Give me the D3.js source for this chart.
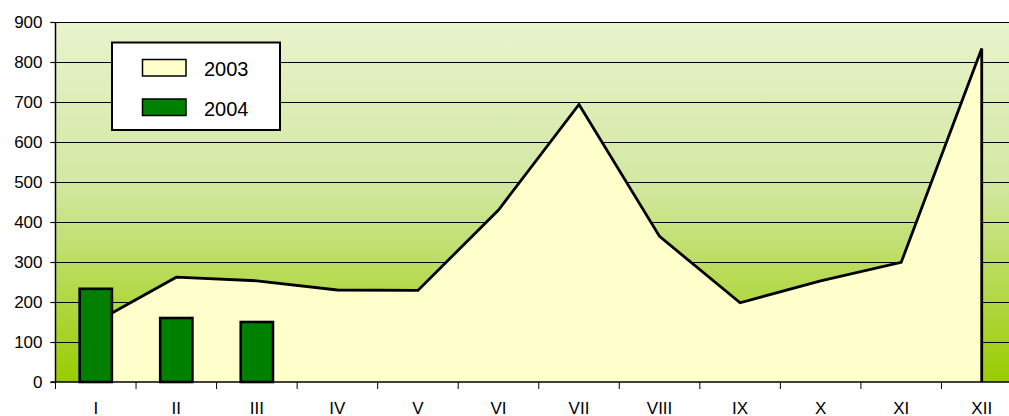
<!DOCTYPE html>
<html>
<head>
<meta charset="utf-8">
<style>
  body {margin: 0; background: white;}
  svg {display: block; font-family: "Liberation Sans", Arial, sans-serif;}
</style>
</head>
<body>
<svg id="chart" width="1009" height="416"></svg>
<script src="https://d3js.org/d3.v7.min.js"></script>
<script>
var months = ["I","II","III","IV","V","VI","VII","VIII","IX","X","XI","XII"];
var values2003 = [150, 262, 253, 230, 229, 430, 694, 364, 198, 253, 299, 834];
var values2004 = [233, 160, 150];
var yTicks = [0, 100, 200, 300, 400, 500, 600, 700, 800, 900];
var seriesNames = ["2003", "2004"];

var svg = d3.select("#chart");
var pLeft = 55.5, pRight = 1022, pTop = 22, pBottom = 382;

var x = d3.scaleBand().domain(months).range([pLeft, pRight]).padding(0);
var y = d3.scaleLinear().domain([0, 900]).range([pBottom, pTop]);

// background gradient
var grad = svg.append("defs").append("linearGradient")
  .attr("id", "bg").attr("x1", 0).attr("y1", 0).attr("x2", 0).attr("y2", 1);
grad.append("stop").attr("offset", "0%").attr("stop-color", "#e9f3cd");
grad.append("stop").attr("offset", "45%").attr("stop-color", "#d2e8a2");
grad.append("stop").attr("offset", "100%").attr("stop-color", "#99cc00");

svg.append("rect").attr("x", pLeft).attr("y", pTop)
  .attr("width", pRight - pLeft).attr("height", pBottom - pTop)
  .attr("fill", "url(#bg)");

// gridlines
svg.append("g").selectAll("line").data(yTicks.slice(1)).enter().append("line")
  .attr("x1", pLeft - 5).attr("x2", pRight)
  .attr("y1", function(d){ return Math.round(y(d)) + 0.5; })
  .attr("y2", function(d){ return Math.round(y(d)) + 0.5; })
  .attr("stroke", "#000").attr("stroke-width", 1.2);

// 2003 area
var cx = function(d, i){ return x(months[i]) + x.bandwidth() / 2; };
var area = d3.area().x(cx).y0(y(0)).y1(function(d){ return y(d); });
var line = d3.line().x(cx).y(function(d){ return y(d); });
svg.append("path").datum(values2003).attr("d", area).attr("fill", "#ffffcc");
var lastX = cx(null, values2003.length - 1);
svg.append("path")
  .attr("d", line(values2003) + "L" + lastX + "," + y(0))
  .attr("fill", "none").attr("stroke", "#000").attr("stroke-width", 2.8)
  .attr("stroke-linejoin", "miter");

// 2004 bars
var barW = x.bandwidth() * 0.4;
svg.append("g").selectAll("rect").data(values2004).enter().append("rect")
  .attr("x", function(d, i){ return cx(d, i) - barW / 2; })
  .attr("y", function(d){ return y(d); })
  .attr("width", barW)
  .attr("height", function(d){ return y(0) - y(d); })
  .attr("fill", "#008000").attr("stroke", "#000").attr("stroke-width", 2.6);

// y axis
var yAxis = d3.axisLeft(y).tickValues(yTicks).tickSize(5).tickPadding(8);
var gy = svg.append("g").attr("transform", "translate(" + pLeft + ",0)").call(yAxis);
gy.select(".domain").attr("stroke", "#000").attr("stroke-width", 1.5).attr("d", "M0," + pTop + "V" + pBottom);
gy.selectAll("line").attr("stroke", "#000").attr("stroke-width", 1.2);
gy.selectAll("text").attr("font-size", 17).attr("fill", "#000")
  .attr("font-family", "Liberation Sans, Arial, sans-serif");

// x axis
var gx = svg.append("g").attr("transform", "translate(0," + pBottom + ")");
gx.append("line").attr("x1", pLeft - 5).attr("x2", pRight).attr("y1", 0).attr("y2", 0)
  .attr("stroke", "#000").attr("stroke-width", 1.5);
gx.selectAll(".tk").data(months).enter().append("line")
  .attr("x1", function(d){ return x(d); }).attr("x2", function(d){ return x(d); })
  .attr("y1", 0).attr("y2", 7).attr("stroke", "#000").attr("stroke-width", 1);
gx.selectAll(".lbl").data(months).enter().append("text")
  .attr("x", function(d){ return x(d) + x.bandwidth() / 2; })
  .attr("y", 32).attr("text-anchor", "middle").attr("font-size", 17)
  .text(function(d){ return d; });

// legend
var lg = svg.append("g");
lg.append("rect").attr("x", 112).attr("y", 42.5).attr("width", 168).attr("height", 87.5)
  .attr("fill", "#fff").attr("stroke", "#000").attr("stroke-width", 2);
var swatchFill = ["#ffffcc", "#008000"];
seriesNames.forEach(function(name, i){
  var yy = 59.5 + i * 39.5;
  lg.append("rect").attr("x", 142.5).attr("y", yy).attr("width", 43.5).attr("height", 16.5)
    .attr("fill", swatchFill[i]).attr("stroke", "#000").attr("stroke-width", 1.5);
  lg.append("text").attr("x", 204).attr("y", yy + 16.5).attr("font-size", 20)
    .text(name);
});
</script>
</body>
</html>
